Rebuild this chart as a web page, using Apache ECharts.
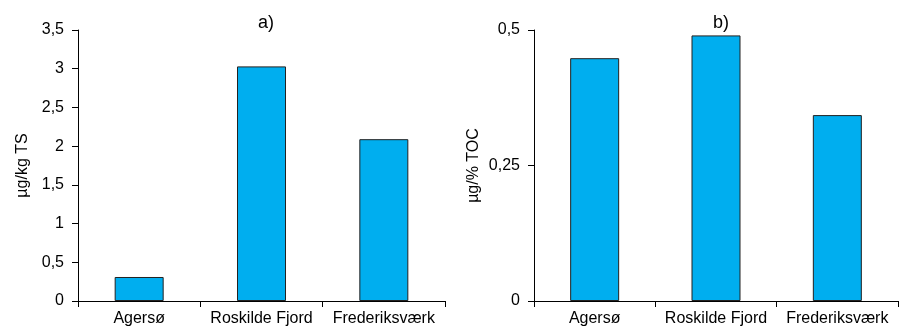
<!DOCTYPE html>
<html>
<head>
<meta charset="utf-8">
<script src="https://cdn.jsdelivr.net/npm/echarts@6/dist/echarts.min.js"></script>
<style>
html,body{margin:0;padding:0;background:#fff;}
#chart{width:899px;height:327px;}
</style>
</head>
<body>
<div id="chart"></div>
<script>
const categories = ['Agersø', 'Roskilde Fjord', 'Frederiksværk'];
const valuesTS = [0.31, 3.03, 2.09];
const valuesTOC = [0.448, 0.490, 0.343];
const titles = ['a)', 'b)'];
const yNames = ['µg/kg TS', 'µg/% TOC'];

const FONT = 'Liberation Sans, Arial, sans-serif';
const barColor = '#00AEEF';
const fmt = v => String(v).replace('.', ',');

const chart = echarts.init(document.getElementById('chart'), null, {renderer: 'canvas'});

function xAxis(gridIndex) {
  return {
    type: 'category', gridIndex, data: categories,
    axisLine: {lineStyle: {color: '#000', width: 1}},
    axisTick: {show: true, length: 6, lineStyle: {color: '#000'}},
    axisLabel: {color: '#000', fontSize: 16, fontFamily: FONT, margin: 10, interval: 0}
  };
}
function yAxis(gridIndex, max, interval, name) {
  return {
    type: 'value', gridIndex, min: 0, max, interval,
    name, nameLocation: 'middle', nameRotate: 90,
    nameTextStyle: {color: '#000', fontSize: 16, fontFamily: FONT},
    axisLine: {show: true, lineStyle: {color: '#000', width: 1}},
    axisTick: {show: true, length: 6, lineStyle: {color: '#000'}},
    splitLine: {show: false},
    axisLabel: {color: '#000', fontSize: 16, fontFamily: FONT, margin: 14, formatter: fmt}
  };
}

chart.setOption({
  animation: false,
  textStyle: {fontFamily: FONT},
  title: [
    {text: titles[0], left: 261, top: 9, textAlign: 'center',
     textStyle: {fontSize: 18, fontWeight: 'normal', color: '#000', fontFamily: FONT}},
    {text: titles[1], left: 716, top: 9, textAlign: 'center',
     textStyle: {fontSize: 18, fontWeight: 'normal', color: '#000', fontFamily: FONT}}
  ],
  grid: [
    {left: 78, right: 454, top: 30, bottom: 25},
    {left: 534, right: 1, top: 30, bottom: 23}
  ],
  xAxis: [xAxis(0), xAxis(1)],
  yAxis: [
    Object.assign(yAxis(0, 3.5, 0.5, yNames[0]), {nameGap: 47}),
    Object.assign(yAxis(1, 0.5, 0.25, yNames[1]), {nameGap: 52})
  ],
  series: [
    {type: 'bar', xAxisIndex: 0, yAxisIndex: 0, data: valuesTS, barWidth: 49,
     itemStyle: {color: barColor, borderColor: '#222', borderWidth: 1}},
    {type: 'bar', xAxisIndex: 1, yAxisIndex: 1, data: valuesTOC, barWidth: 49,
     itemStyle: {color: barColor, borderColor: '#222', borderWidth: 1}}
  ]
});
</script>
</body>
</html>
